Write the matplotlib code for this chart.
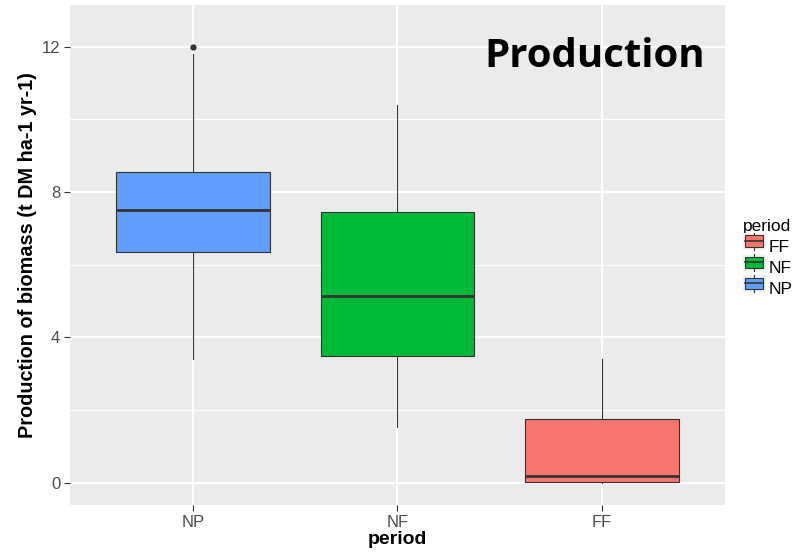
import matplotlib
matplotlib.use("Agg")
import matplotlib.pyplot as plt
from matplotlib.patches import Rectangle
from matplotlib.lines import Line2D
from matplotlib.legend_handler import HandlerBase

plt.rcParams['font.family'] = ['Liberation Sans', 'DejaVu Sans']

# data
periods = ["NP", "NF", "FF"]
colors = ["#619CFF", "#00BA38", "#F8766D"]
whislo = [3.42, 1.55, 0.0]
q1 = [6.35, 3.5, 0.02]
med = [7.5, 5.15, 0.2]
q3 = [8.55, 7.45, 1.75]
whishi = [11.8, 10.4, 3.42]
fliers = [[12.0], [], []]

legend_order = ["FF", "NF", "NP"]

fig = plt.figure(figsize=(8.12, 5.52), dpi=100)
ax = fig.add_axes([70 / 812, 47 / 552, 655 / 812, 500 / 552])
ax.set_facecolor("#EBEBEB")

stats = []
for i in range(len(periods)):
    stats.append(dict(label=periods[i], whislo=whislo[i], q1=q1[i], med=med[i],
                      q3=q3[i], whishi=whishi[i], fliers=fliers[i]))

pos = list(range(1, len(periods) + 1))
bp = ax.bxp(stats, positions=pos, widths=0.75, patch_artist=True, showcaps=False,
            boxprops=dict(edgecolor="#333333", linewidth=0.8),
            whiskerprops=dict(color="#333333", linewidth=0.8),
            medianprops=dict(color="#333333", linewidth=2.0),
            flierprops=dict(marker="o", markerfacecolor="#333333", markeredgecolor="#333333",
                            markersize=3.5))
for patch, c in zip(bp["boxes"], colors):
    patch.set_facecolor(c)
for a in bp["boxes"] + bp["whiskers"] + bp["medians"] + bp["fliers"]:
    a.set_zorder(3)

ax.set_xlim(0.4, 3.6)
ax.set_ylim(-0.61, 13.15)
ax.set_yticks([0, 4, 8, 12])
ax.set_yticks([2, 6, 10], minor=True)
ax.set_xticks(pos)
ax.set_xticklabels(periods)
ax.grid(True, which="major", color="white", linewidth=1.4, zorder=0)
ax.grid(True, which="minor", axis="y", color="white", linewidth=0.7, zorder=0)
ax.set_axisbelow(True)
for s in ax.spines.values():
    s.set_visible(False)
ax.tick_params(axis="both", which="major", colors="#333333", length=4, width=0.8,
               labelsize=12, labelcolor="#4D4D4D", pad=3)
ax.tick_params(axis="y", which="minor", length=0)

ax.set_xlabel("period", fontsize=14, fontweight="bold", labelpad=1)
ax.set_ylabel("Production of biomass (t DM ha-1 yr-1)", fontsize=14.3, fontweight="bold", labelpad=3)

ax.text(0.969, 0.897, "Production", transform=ax.transAxes, ha="right", va="center",
        fontsize=29, fontweight="bold", family=["Open Sans", "DejaVu Sans"], color="black")


class BoxKey(HandlerBase):
    def create_artists(self, legend, orig, xd, yd, w, h, fontsize, trans):
        fc = orig.get_facecolor()
        bg = Rectangle((xd, yd), w, h, facecolor="#F2F2F2", edgecolor="none", transform=trans)
        wl = Line2D([xd + w / 2, xd + w / 2], [yd, yd + h], color="#333333", lw=0.8, transform=trans)
        bx = Rectangle((xd + w * 0.1, yd + h * 0.15), w * 0.8, h * 0.7, facecolor=fc,
                       edgecolor="#333333", lw=0.8, transform=trans)
        md = Line2D([xd + w * 0.1, xd + w * 0.9], [yd + h / 2, yd + h / 2], color="#333333",
                    lw=1.2, transform=trans)
        return [bg, wl, bx, md]


handles = []
for p in legend_order:
    handles.append(Rectangle((0, 0), 1, 1, facecolor=colors[periods.index(p)]))

leg = fig.legend(handles, legend_order, handler_map={Rectangle: BoxKey()},
                 loc="upper left", bbox_to_anchor=(743 / 812, 1 - 219 / 552),
                 frameon=False, title="period", fontsize=12.5, title_fontsize=12.5,
                 handlelength=1.3, handleheight=1.1, handletextpad=0.2,
                 labelspacing=0.22, borderaxespad=0, borderpad=0)
leg._legend_box.align = "left"

fig.savefig("out.png", dpi=100)
